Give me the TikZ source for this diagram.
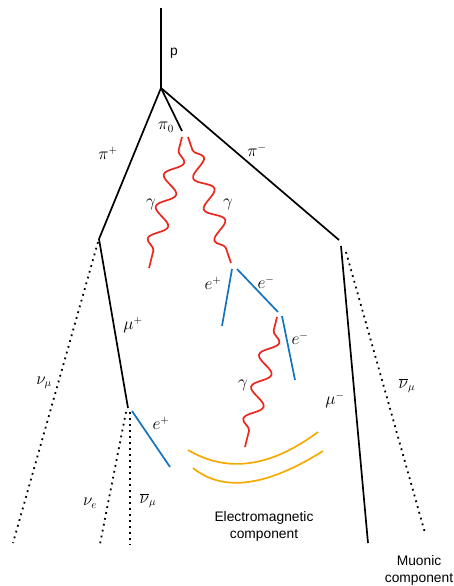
\documentclass[tikz,border=0pt]{standalone}
\usepackage{fontspec}
\setmainfont{Liberation Sans}
\usetikzlibrary{decorations.pathmorphing}
\definecolor{gred}{RGB}{235,40,30}
\definecolor{eblue}{RGB}{20,115,190}
\definecolor{emorange}{RGB}{245,170,0}
\begin{document}
\begin{tikzpicture}[x=1pt,y=-1pt,
  track/.style={line width=1.7pt,black},
  nu/.style={line width=1.8pt,dash pattern=on 1.8pt off 4.2pt},
  elec/.style={line width=1.7pt,eblue},
  photon/.style={line width=1.7pt,gred,decorate,decoration={snake,segment length=33pt,amplitude=8.5pt,pre length=14pt,post length=12pt}},
  shower/.style={line width=1.7pt,emorange},
  lbl/.style={font=\fontsize{16}{18}\selectfont,inner sep=0pt},
  txt/.style={font=\fontsize{13.8}{17}\selectfont,align=center,inner sep=0pt}]
\useasboundingbox (0,0) rectangle (453,586);
% vertices
\coordinate (top) at (161,8);
\coordinate (v0) at (161,88);
\coordinate (pip) at (99,239);
\coordinate (pi0) at (182,131);
\coordinate (pim) at (339,240);
\coordinate (numuLs) at (98,242);
\coordinate (numuLe) at (13,543);
\coordinate (mup) at (128,408);
\coordinate (nues) at (126,412);
\coordinate (nuee) at (100,544);
\coordinate (nubs) at (130,412);
\coordinate (nube) at (130,545);
\coordinate (eps) at (132,411);
\coordinate (epe) at (170,467);
\coordinate (mums) at (341,246);
\coordinate (mume) at (368,543);
\coordinate (nubRs) at (346,252);
\coordinate (nubRe) at (425,533);
\coordinate (g1s) at (182,137);
\coordinate (g1e) at (149,268);
\coordinate (g2s) at (188,137);
\coordinate (g2e) at (231,263);
\coordinate (e1s) at (232,269);
\coordinate (e1e) at (222,326);
\coordinate (e2s) at (237,269);
\coordinate (e2e) at (278,312);
\coordinate (e3s) at (282,316);
\coordinate (e3e) at (295,380);
\coordinate (g3s) at (277,317);
\coordinate (g3e) at (245,447);
\coordinate (a1s) at (188,450);
\coordinate (a1c1) at (227.3,473.3);
\coordinate (a1c2) at (270.7,467.3);
\coordinate (a1e) at (318,432);
\coordinate (a2s) at (193,468);
\coordinate (a2c1) at (223,492.3);
\coordinate (a2c2) at (266.3,486.7);
\coordinate (a2e) at (323,451);
% hadron tracks
\draw[track] (top) -- (v0);
\draw[track] (v0) -- (pip);
\draw[track] (v0) -- (pi0);
\draw[track] (v0) -- (pim);
\draw[track] (pip) -- (mup);
\draw[track] (mums) -- (mume);
% neutrinos
\draw[nu] (numuLs) -- (numuLe);
\draw[nu] (nues) -- (nuee);
\draw[nu] (nubs) -- (nube);
\draw[nu] (nubRs) -- (nubRe);
% photons
\draw[photon] (g1s) -- (g1e);
\draw[photon] (g2s) -- (g2e);
\draw[photon] (g3s) -- (g3e);
% electrons
\draw[elec] (e1s) -- (e1e);
\draw[elec] (e2s) -- (e2e);
\draw[elec] (e3s) -- (e3e);
\draw[elec] (eps) -- (epe);
% shower fronts
\draw[shower] (a1s) .. controls (a1c1) and (a1c2) .. (a1e);
\draw[shower] (a2s) .. controls (a2c1) and (a2c2) .. (a2e);
% labels
\node[txt] (lp) at (174,53) {p};
\node[lbl] (lpip) at (108,153) {$\pi^+$};
\node[lbl] (lpi0) at (166,127) {$\pi_0$};
\node[lbl] (lpim) at (257,150) {$\pi^-$};
\node[lbl] (lg1) at (151,204) {$\gamma$};
\node[lbl] (lg2) at (228,204) {$\gamma$};
\node[lbl] (lep1) at (213,283) {$e^+$};
\node[lbl] (lem1) at (266,282) {$e^-$};
\node[lbl] (lem2) at (300,338) {$e^-$};
\node[lbl] (lg3) at (243,385) {$\gamma$};
\node[lbl] (lmup) at (133,325) {$\mu^+$};
\node[lbl] (lnumu) at (44,383) {$\nu_\mu$};
\node[lbl] (lnue) at (90,503) {$\nu_e$};
\node[lbl] (lnubmu) at (148,501) {$\overline{\nu}_\mu$};
\node[lbl] (lep2) at (161,423) {$e^+$};
\node[lbl] (lmum) at (335,400) {$\mu^-$};
\node[lbl] (lnubR) at (407,386) {$\overline{\nu}_\mu$};
\node[txt] (lem) at (264,526) {Electromagnetic\\component};
\node[txt] (lmu) at (419,570) {Muonic\\component};
\end{tikzpicture}
\end{document}
